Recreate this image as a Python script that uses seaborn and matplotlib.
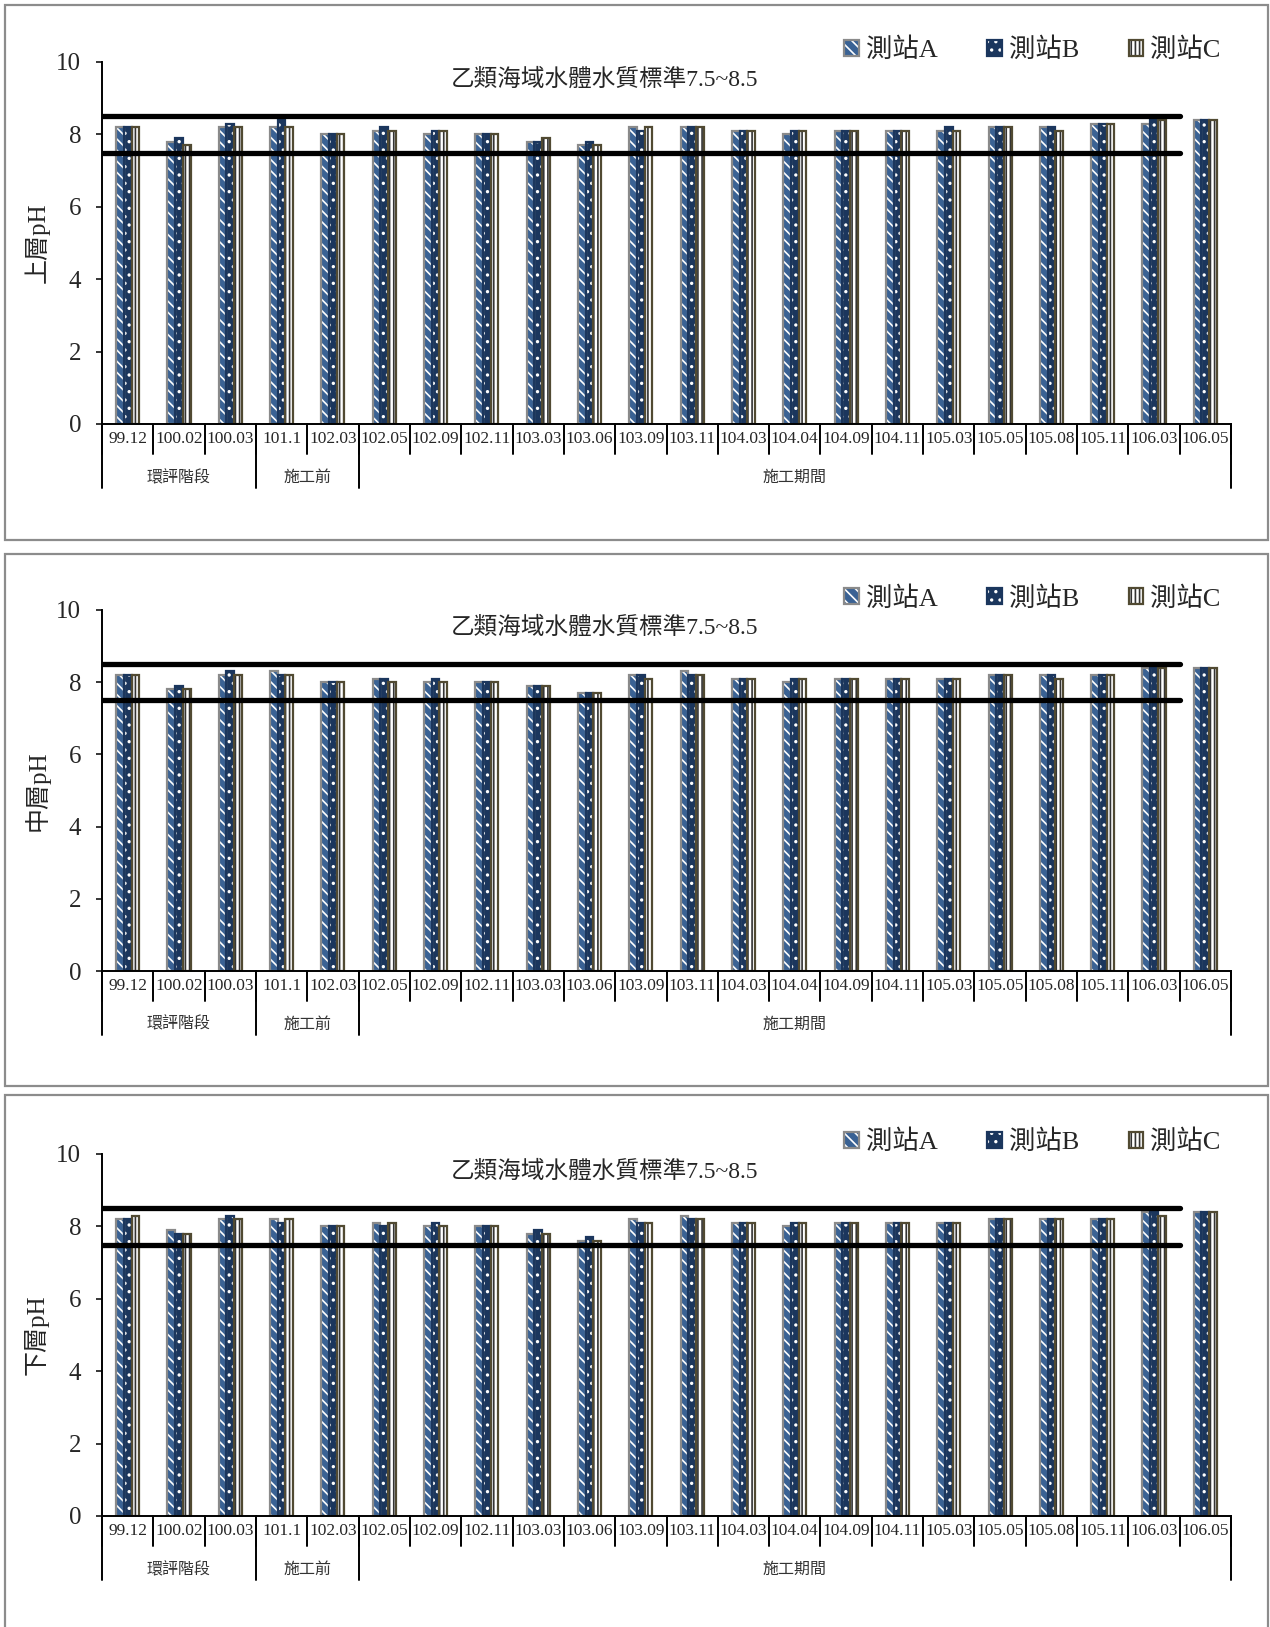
import matplotlib
matplotlib.use('Agg')
import matplotlib.pyplot as plt
import seaborn as sns
import pandas as pd
from matplotlib.patches import Rectangle, Patch

# 採樣日期與階段
dates = ['99.12', '100.02', '100.03', '101.1', '102.03', '102.05', '102.09', '102.11',
         '103.03', '103.06', '103.09', '103.11', '104.03', '104.04', '104.09', '104.11',
         '105.03', '105.05', '105.08', '105.11', '106.03', '106.05']
phases = ['環評階段', '施工前', '施工期間']
phase_sizes = [3, 2, 17]
stations = ['測站A', '測站B', '測站C']
std_low, std_high = 7.5, 8.5
std_text = '乙類海域水體水質標準7.5~8.5'
layer_labels = ['上層pH', '中層pH', '下層pH']

# 上層
top_a = [8.2, 7.8, 8.2, 8.2, 8.0, 8.1, 8.0, 8.0, 7.8, 7.7, 8.2, 8.2, 8.1, 8.0, 8.1, 8.1, 8.1, 8.2, 8.2, 8.3, 8.3, 8.4]
top_b = [8.2, 7.9, 8.3, 8.4, 8.0, 8.2, 8.1, 8.0, 7.8, 7.8, 8.1, 8.2, 8.1, 8.1, 8.1, 8.1, 8.2, 8.2, 8.2, 8.3, 8.4, 8.4]
top_c = [8.2, 7.7, 8.2, 8.2, 8.0, 8.1, 8.1, 8.0, 7.9, 7.7, 8.2, 8.2, 8.1, 8.1, 8.1, 8.1, 8.1, 8.2, 8.1, 8.3, 8.4, 8.4]
# 中層
mid_a = [8.2, 7.8, 8.2, 8.3, 8.0, 8.1, 8.0, 8.0, 7.9, 7.7, 8.2, 8.3, 8.1, 8.0, 8.1, 8.1, 8.1, 8.2, 8.2, 8.2, 8.4, 8.4]
mid_b = [8.2, 7.9, 8.3, 8.2, 8.0, 8.1, 8.1, 8.0, 7.9, 7.7, 8.2, 8.2, 8.1, 8.1, 8.1, 8.1, 8.1, 8.2, 8.2, 8.2, 8.4, 8.4]
mid_c = [8.2, 7.8, 8.2, 8.2, 8.0, 8.0, 8.0, 8.0, 7.9, 7.7, 8.1, 8.2, 8.1, 8.1, 8.1, 8.1, 8.1, 8.2, 8.1, 8.2, 8.4, 8.4]
# 下層
bot_a = [8.2, 7.9, 8.2, 8.2, 8.0, 8.1, 8.0, 8.0, 7.8, 7.6, 8.2, 8.3, 8.1, 8.0, 8.1, 8.1, 8.1, 8.2, 8.2, 8.2, 8.4, 8.4]
bot_b = [8.2, 7.8, 8.3, 8.1, 8.0, 8.0, 8.1, 8.0, 7.9, 7.7, 8.1, 8.2, 8.1, 8.1, 8.1, 8.1, 8.1, 8.2, 8.2, 8.2, 8.4, 8.4]
bot_c = [8.3, 7.8, 8.2, 8.2, 8.0, 8.1, 8.0, 8.0, 7.8, 7.6, 8.1, 8.2, 8.1, 8.1, 8.1, 8.1, 8.1, 8.2, 8.2, 8.2, 8.3, 8.4]

sns.set_style('white')
plt.rcParams['font.family'] = ['Liberation Serif', 'Noto Sans CJK TC']
plt.rcParams['hatch.linewidth'] = 1.2

# 填色, 花紋, 花紋顏色, 外框顏色
styles = [
    ('#3a6294', '\\\\\\', 'white', '#8a8a8a'),
    ('#1b365d', '..', 'white', '#1b365d'),
    ('white', '||||', '#333333', '#514a32'),
]


def draw_panel(ax, vals, ylabel):
    df = pd.DataFrame({
        'date': dates * 3,
        'station': [s for s in stations for _ in dates],
        'pH': vals[0] + vals[1] + vals[2],
    })
    sns.barplot(data=df, x='date', y='pH', hue='station', order=dates,
                hue_order=stations, width=0.45, dodge=True, legend=False, ax=ax)
    for cont, (fc, hatch, hc, ec) in zip(ax.containers, styles):
        for p in cont:
            p.set_facecolor(fc)
            p.set_edgecolor(hc)
            p.set_hatch(hatch)
            p.set_linewidth(0)
            ax.add_patch(Rectangle(p.get_xy(), p.get_width(), p.get_height(),
                                   fill=False, edgecolor=ec, lw=1.6, zorder=p.get_zorder()))

    # 水質標準線
    for v in (std_low, std_high):
        ax.plot([-0.5, len(dates) - 1.5], [v, v], color='black', lw=3.8,
                solid_capstyle='round', zorder=5)
    ax.text(0.445, 0.95, std_text, transform=ax.transAxes, ha='center', va='center',
            fontsize=17)

    ax.set_xlim(-0.5, len(dates) - 0.5)
    ax.set_ylim(0, 10)
    ax.set_yticks(range(0, 11, 2))
    ax.tick_params(axis='y', labelsize=18, length=4, width=1.3, pad=11, direction='out', left=True)
    ax.set_xticks([])
    ax.set_xlabel('')
    ax.set_ylabel(ylabel, fontsize=18, va='center')
    ax.yaxis.set_label_coords(-0.058, 0.5)
    sns.despine(ax=ax)
    for sp in ('left', 'bottom'):
        ax.spines[sp].set_linewidth(1.4)
        ax.spines[sp].set_color('black')

    # 類別標籤與分隔線
    tr = ax.get_xaxis_transform()
    for i, d in enumerate(dates):
        ax.text(i, -0.042, d, transform=tr, ha='center', va='center', fontsize=12.5)
    for k in range(len(dates) + 1):
        ax.plot([k - 0.5, k - 0.5], [0, -0.083], transform=tr, color='black',
                lw=1.4, clip_on=False)
    start = 0
    edges = [0]
    for name, n in zip(phases, phase_sizes):
        ax.text(start + n / 2 - 0.5, -0.149, name, transform=tr, ha='center',
                va='center', fontsize=11.5, color='#333333')
        start += n
        edges.append(start)
    for e in edges:
        ax.plot([e - 0.5, e - 0.5], [0, -0.177], transform=tr, color='black',
                lw=1.4, clip_on=False)

    handles = [(Patch(facecolor=fc, edgecolor=hc, hatch=h, lw=0),
                Patch(fill=False, edgecolor=ec, lw=1.6))
               for fc, h, hc, ec in styles]
    ax.legend(handles, stations, loc='center right', bbox_to_anchor=(1.0, 1.033),
              ncol=3, frameon=False, fontsize=19, handlelength=0.55, handleheight=0.55,
              handletextpad=0.25, columnspacing=1.9, borderaxespad=0)


fig = plt.figure(figsize=(12.7, 16.27), dpi=100)
W, H = 1270, 1627
panels = [
    ((top_a, top_b, top_c), 62, 424, 5, 540),
    ((mid_a, mid_b, mid_c), 610, 971, 554, 1086),
    ((bot_a, bot_b, bot_c), 1154, 1516, 1095, 1660),
]
for (vals, y_top, y_bot, b_top, b_bot), lab in zip(panels, layer_labels):
    fig.add_artist(Rectangle((5 / W, 1 - b_bot / H), 1263 / W, (b_bot - b_top) / H,
                             transform=fig.transFigure, fill=False,
                             edgecolor='#8c8c8c', lw=1.6))
    ax = fig.add_axes([102 / W, 1 - y_bot / H, 1129 / W, (y_bot - y_top) / H])
    draw_panel(ax, vals, lab)

fig.savefig('out.png', dpi=100, facecolor='white')
